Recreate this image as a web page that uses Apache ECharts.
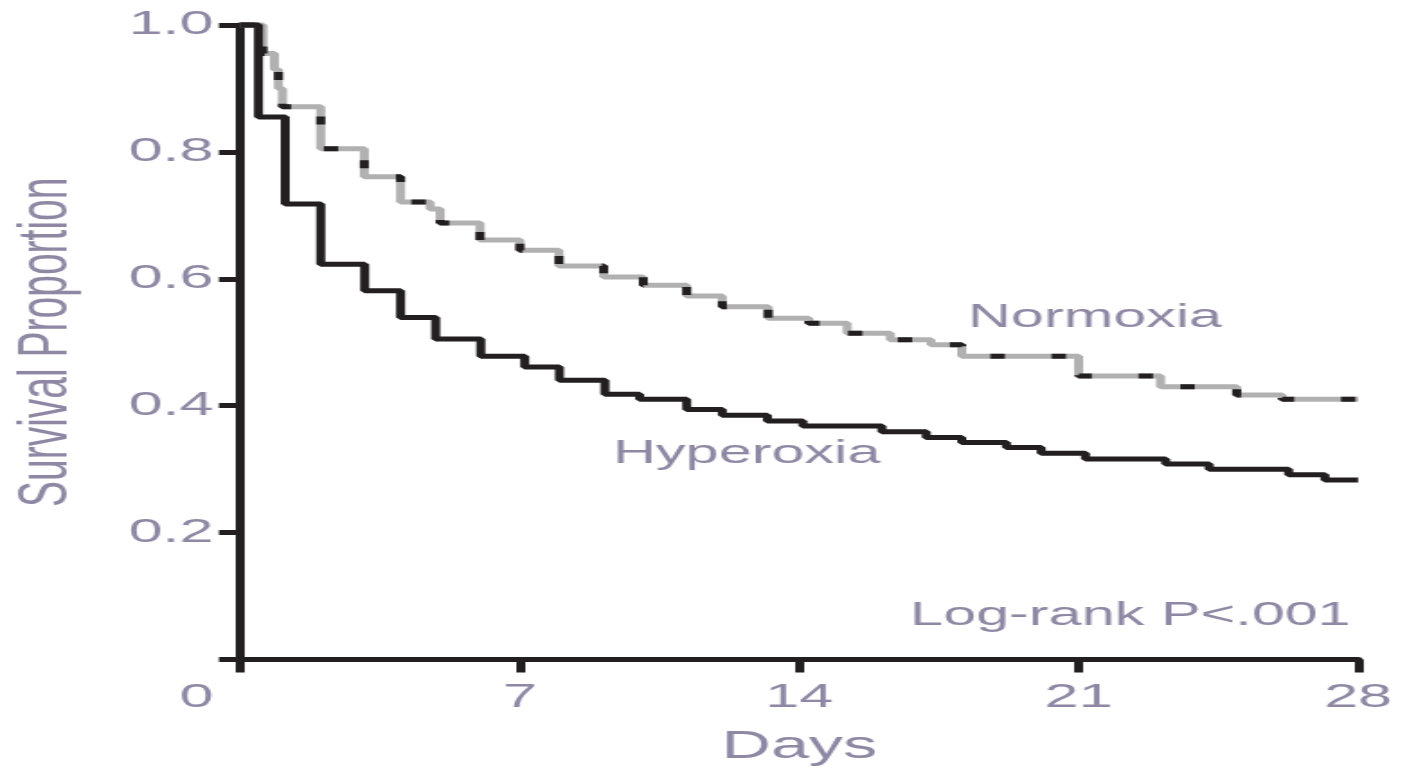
<!DOCTYPE html>
<html>
<head>
<meta charset="utf-8">
<script src="https://cdn.jsdelivr.net/npm/echarts@6/dist/echarts.min.js"></script>
<style>
html,body{margin:0;padding:0;background:#fff;overflow:hidden;}
#wrap{width:1407px;height:774px;overflow:hidden;}
#chart{width:782px;height:774px;transform:scaleX(1.79923);transform-origin:0 0;}
</style>
</head>
<body>
<div id="wrap"><div id="chart"></div></div>
<script>
// ---- data ----
const xTicks = [0, 7, 14, 21, 28];
const yTicks = [0.2, 0.4, 0.6, 0.8, 1.0];

const hyperTimes = [0, 0.45, 1.12, 2.01, 3.11, 4.01, 4.89, 6.02, 7.12, 7.99, 9.13, 10.0, 11.18, 12.07, 13.2, 14.09, 16.07, 17.18, 18.07, 19.19, 20.06, 21.17, 23.18, 24.27, 26.26, 27.17, 28];
const hyperSurv  = [1.0, 0.855, 0.718, 0.623, 0.581, 0.539, 0.505, 0.478, 0.461, 0.440, 0.418, 0.410, 0.394, 0.385, 0.376, 0.368, 0.359, 0.350, 0.342, 0.334, 0.325, 0.316, 0.308, 0.300, 0.291, 0.283, 0.283];

const normoTimes = [0, 0.56, 0.85, 0.95, 1.05, 2.01, 3.1, 4.01, 4.75, 5.0, 6.0, 7.0, 7.98, 9.1, 10.09, 11.18, 12.07, 13.22, 14.24, 15.2, 16.28, 17.3, 18.07, 21.0, 23.05, 24.96, 26.1, 28];
const normoSurv  = [1.0, 0.955, 0.93, 0.90, 0.871, 0.805, 0.761, 0.721, 0.71, 0.688, 0.661, 0.645, 0.62, 0.603, 0.59, 0.573, 0.556, 0.538, 0.530, 0.514, 0.504, 0.496, 0.478, 0.447, 0.430, 0.417, 0.410, 0.410];

const labels = { normoxia: 'Normoxia', hyperoxia: 'Hyperoxia', logrank: 'Log-rank P<.001' };
const axisNames = { x: 'Days', y: 'Survival Proportion' };

// ---- build ----
const zip = (a, b) => a.map((t, i) => [t, b[i]]);
const ink = '#231f20';
const txt = '#8f88a4';
const font = 'Liberation Sans, Arial, Helvetica, sans-serif';

const chart = echarts.init(document.getElementById('chart'), null, { renderer: 'canvas' });
chart.setOption({
  animation: false,
  backgroundColor: '#ffffff',
  grid: { left: 133.67, right: 27.2, top: 25, bottom: 114.5, outerBoundsMode: 'none', containLabel: false },
  xAxis: {
    type: 'value', min: xTicks[0], max: xTicks[xTicks.length - 1], interval: 7,
    name: axisNames.x, nameLocation: 'middle', nameGap: 69,
    nameTextStyle: { color: txt, fontSize: 38, fontFamily: font },
    axisLine: { show: true, onZero: false, lineStyle: { color: ink, width: 5 } },
    axisTick: { show: true, length: 13, lineStyle: { color: ink, width: 5 } },
    splitLine: { show: false },
    axisLabel: {
      color: txt, fontSize: 34, fontFamily: font, margin: 21,
      formatter: v => v === 0 ? '{z|0}' : String(v),
      rich: { z: { color: txt, fontSize: 34, fontFamily: font, padding: [0, 49, 0, 0] } }
    }
  },
  yAxis: {
    type: 'value', min: 0, max: yTicks[yTicks.length - 1], interval: 0.2,
    name: axisNames.y, nameLocation: 'middle', nameGap: 88, nameRotate: 90,
    nameTextStyle: { color: txt, fontSize: 39, fontFamily: font },
    axisLine: { show: true, onZero: false, lineStyle: { color: ink, width: 5 } },
    axisTick: { show: true, length: 12, lineStyle: { color: ink, width: 5 } },
    splitLine: { show: false },
    axisLabel: {
      color: txt, fontSize: 34, fontFamily: font, margin: 15,
      formatter: v => (yTicks.some(t => Math.abs(t - v) < 1e-9) ? v.toFixed(1) : '')
    }
  },
  series: [
    {
      name: labels.normoxia, type: 'line', step: 'end', symbol: 'none', clip: false, z: 2,
      data: zip(normoTimes, normoSurv),
      lineStyle: { color: '#b1b1b1', width: 5 }
    },
    {
      name: labels.normoxia + ' dash', type: 'line', step: 'end', symbol: 'none', clip: false, z: 3,
      data: zip(normoTimes, normoSurv),
      lineStyle: { color: ink, width: 5, type: [8, 26] }
    },
    {
      name: labels.hyperoxia, type: 'line', step: 'end', symbol: 'none', clip: false, z: 4,
      data: zip(hyperTimes, hyperSurv),
      lineStyle: { color: ink, width: 5 }
    }
  ],
  graphic: [
    { type: 'text', left: 538, top: 318 - 17, style: { text: labels.normoxia, fill: txt, fontSize: 33, fontFamily: font } },
    { type: 'text', left: 340.7, top: 454 - 17, style: { text: labels.hyperoxia, fill: txt, fontSize: 33, fontFamily: font } },
    { type: 'text', left: 505.8, top: 616 - 17, style: { text: labels.logrank, fill: txt, fontSize: 33, fontFamily: font } }
  ]
});
</script>
</body>
</html>
